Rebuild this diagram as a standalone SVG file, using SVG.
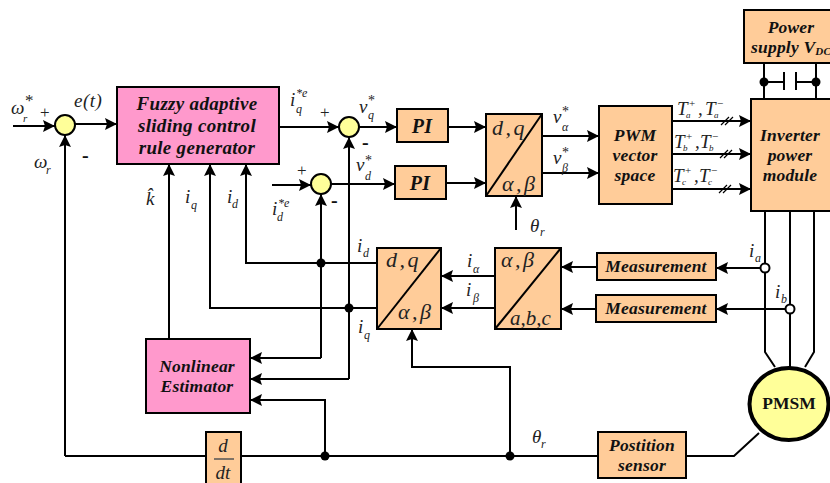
<svg xmlns="http://www.w3.org/2000/svg" width="830" height="483" viewBox="0 0 830 483">
<style>
text{font-family:"Liberation Serif","Times New Roman",serif;fill:#111}
.b{font-weight:bold;font-style:italic;font-size:19px;text-anchor:middle;letter-spacing:.3px}
.b2{font-weight:bold;font-style:italic;font-size:17.500px;text-anchor:middle;letter-spacing:.2px}
.m{font-style:italic;font-size:19px;fill:#222}
.t{font-style:italic;font-size:19px;fill:#222}
.s{font-style:italic;font-size:12px;fill:#222}
.e{font-style:italic;font-size:9px;fill:#222}
.u{font-size:14px;fill:#222}
.w{font-size:11px;fill:#222}
.v{font-size:17px;fill:#222}
.p{font-size:17.500px;font-weight:bold}
.n{font-size:20px;font-weight:bold}
.k{font-style:italic;font-size:22px;fill:#222;letter-spacing:2.500px}
.c{fill:none;stroke:#000;stroke-width:2}
.a{marker-end:url(#h)}
.o{fill:#fc9;stroke:#000;stroke-width:2}
.r{fill:#f9c;stroke:#000;stroke-width:2}
.y{fill:#ff9;stroke:#000;stroke-width:2}
.d{fill:#000}
</style>
<defs>
<marker id="h" markerUnits="userSpaceOnUse" markerWidth="13" markerHeight="13" refX="12" refY="6.500" orient="auto"><path d="M0,0.500 L12,6.500 L0,12.500 L2,6.500 Z" fill="#000"/></marker>
</defs>
<g id="connectors">
<path class="c a" d="M13,126H55"/>
<path class="c a" d="M75,124H117"/>
<path class="c a" d="M65,456V135"/>
<path class="c" d="M65,456H206"/>
<path class="c" d="M241,456H598"/>
<path class="c a" d="M325,456V400H250"/>
<path class="c a" d="M510,456V367H412V329"/>
<path class="c" d="M686,456H734L759,433"/>
<path class="c a" d="M169,339V164"/>
<path class="c a" d="M377,308H210V164"/>
<path class="c a" d="M377,263H246V164"/>
<path class="c a" d="M321,358H250"/>
<path class="c a" d="M321,358V194"/>
<path class="c a" d="M349,379H250"/>
<path class="c a" d="M349,379V137"/>
<path class="c a" d="M279,127H339"/>
<path class="c a" d="M359,127H397"/>
<path class="c a" d="M272,185H311"/>
<path class="c a" d="M331,184H395"/>
<path class="c a" d="M448,127H486"/>
<path class="c a" d="M446,183H486"/>
<path class="c a" d="M516,230V196"/>
<path class="c a" d="M542,136H599"/>
<path class="c a" d="M542,173H599"/>
<path class="c a" d="M672,121H751"/>
<path class="c a" d="M672,154H751"/>
<path class="c a" d="M672,189H751"/>
<path class="c" d="M721,125L729,117M725,125L733,117M720,158L728,150M724,158L732,150M719,193L727,185M723,193L731,185" style="stroke-width:1.200px"/>
<path class="c a" d="M495,276H441"/>
<path class="c a" d="M495,308H441"/>
<path class="c a" d="M597,267H561"/>
<path class="c a" d="M596,309H561"/>
<path class="c a" d="M760,268H716"/>
<path class="c a" d="M785,309H716"/>
<path class="c" d="M764,63V99M816,63V99M764,82H784M784,72V90M796,72V90M796,82H816"/>
<path class="c" d="M765,211V352L775,367M790,211V367M814,211V352L805,367"/>
<circle class="d" cx="321" cy="263" r="4.500"/>
<circle class="d" cx="349" cy="308" r="4.500"/>
<circle class="d" cx="325" cy="456" r="4.500"/>
<circle class="d" cx="510" cy="456" r="4.500"/>
<circle class="d" cx="764" cy="82" r="4.500"/>
<circle class="d" cx="816" cy="82" r="4.500"/>
<circle cx="765" cy="268" r="4.500" fill="#fff" stroke="#000" stroke-width="2"/>
<circle cx="790" cy="309" r="4.500" fill="#fff" stroke="#000" stroke-width="2"/>
</g>
<g id="fuzzy"><rect class="r" x="117" y="87" width="162" height="77"/><text class="b" x="197" y="110">Fuzzy adaptive</text><text class="b" x="197" y="132">sliding control</text><text class="b" x="197" y="154">rule generator</text></g>
<g id="estimator"><rect class="r" x="146" y="339" width="104" height="74"/><text class="b2" x="197" y="372">Nonlinear</text><text class="b2" x="197" y="392">Estimator</text></g>
<g id="sum1"><circle class="y" cx="65" cy="125" r="10"/></g>
<g id="sum2"><circle class="y" cx="349" cy="127" r="10"/></g>
<g id="sum3"><circle class="y" cx="321" cy="184" r="10"/></g>
<g id="pi1"><rect class="o" x="397" y="109" width="51" height="33"/><text class="b" x="422" y="133" style="font-size:20px">PI</text></g>
<g id="pi2"><rect class="o" x="395" y="166" width="51" height="33"/><text class="b" x="420" y="190" style="font-size:20px">PI</text></g>
<g id="dq-ab"><rect class="o" x="486" y="114" width="56" height="82"/><path class="c" d="M486,196L542,114"/><text class="k" x="492" y="135">d,q</text><text class="k" x="502" y="191">α,β</text></g>
<g id="pwm"><rect class="o" x="599" y="106" width="73" height="98"/><text class="b2" x="635" y="141">PWM</text><text class="b2" x="635" y="161">vector</text><text class="b2" x="635" y="181">space</text></g>
<g id="inverter"><rect class="o" x="751" y="99" width="85" height="112"/><text class="b2" x="790" y="141">Inverter</text><text class="b2" x="790" y="161">power</text><text class="b2" x="790" y="181">module</text></g>
<g id="power"><rect class="o" x="744" y="10" width="92" height="53"/><text class="b2" x="791" y="33">Power</text><text class="b2" x="751" y="53" style="text-anchor:start">supply V<tspan font-size="11" dy="2">DC</tspan></text></g>
<g id="ab-dq"><rect class="o" x="377" y="248" width="64" height="81"/><path class="c" d="M377,329L441,248"/><text class="k" x="386" y="267">d,q</text><text class="k" x="398" y="319">α,β</text></g>
<g id="abc-ab"><rect class="o" x="495" y="248" width="66" height="81"/><path class="c" d="M495,329L561,248"/><text class="k" x="501" y="267">α,β</text><text class="k" x="510" y="325" style="letter-spacing:0;font-size:21px">a,b,c</text></g>
<g id="meas1"><rect class="o" x="597" y="253" width="119" height="27"/><text class="b2" x="656" y="272">Measurement</text></g>
<g id="meas2"><rect class="o" x="596" y="295" width="120" height="27"/><text class="b2" x="656" y="314">Measurement</text></g>
<g id="pmsm"><ellipse cx="789" cy="404" rx="39.500" ry="36" fill="#ff9" stroke="#000" stroke-width="4"/><text class="p" x="789" y="409" text-anchor="middle">PMSM</text></g>
<g id="sensor"><rect class="o" x="598" y="432" width="88" height="46"/><text class="b2" x="642" y="451">Postition</text><text class="b2" x="642" y="471">sensor</text></g>
<g id="ddt"><rect class="o" x="206" y="432" width="35" height="60"/><path d="M214,459H234" stroke="#555" stroke-width="1.500"/><text class="t" x="223" y="452" text-anchor="middle">d</text><text class="t" x="223" y="479" text-anchor="middle">dt</text></g>
<g id="labels">
<text class="m" x="11" y="114">ω</text><text class="s" x="23" y="122" style="font-size:11px">r</text><text class="v" x="25" y="106">*</text>
<text class="v" x="40" y="118">+</text>
<text class="t" x="74" y="107" style="letter-spacing:.5px">e(t)</text>
<text class="n" x="82" y="162">-</text>
<text class="m" x="34" y="168">ω</text><text class="s" x="46" y="174">r</text>
<text class="t" x="146" y="205">k̂</text>
<text class="t" x="185" y="203">i</text><text class="s" x="191" y="209">q</text>
<text class="t" x="227" y="203">i</text><text class="s" x="232" y="208">d</text>
<text class="t" x="290" y="106">i</text><text class="s" x="296" y="113">q</text><text class="s" x="296" y="97">*e</text>
<text class="v" x="320" y="118">+</text>
<text class="t" x="359" y="113">v</text><text class="s" x="368" y="119">q</text><text class="u" x="368" y="105">*</text>
<text class="n" x="362" y="149">-</text>
<text class="t" x="356" y="171">v</text><text class="s" x="365" y="180">d</text><text class="u" x="365" y="165">*</text>
<text class="v" x="297" y="176">+</text>
<text class="n" x="331" y="207">-</text>
<text class="t" x="272" y="215">i</text><text class="s" x="277" y="221">d</text><text class="s" x="278" y="207">*e</text>
<text class="t" x="357" y="252">i</text><text class="s" x="363" y="257">d</text>
<text class="t" x="358" y="333">i</text><text class="s" x="364" y="339">q</text>
<text class="t" x="553" y="123">v</text><text class="s" x="562" y="131">α</text><text class="u" x="562" y="116">*</text>
<text class="t" x="553" y="164">v</text><text class="s" x="562" y="172">β</text><text class="u" x="562" y="157">*</text>
<text class="t" x="677" y="115">T</text><text class="e" x="686" y="118">a</text><text class="w" x="689" y="107">+</text><text class="t" x="698" y="115">,</text><text class="t" x="705" y="115">T</text><text class="e" x="714" y="118">a</text><text class="w" x="717" y="107">−</text>
<text class="t" x="674" y="148">T</text><text class="e" x="683" y="151">b</text><text class="w" x="686" y="140">+</text><text class="t" x="695" y="148">,</text><text class="t" x="700" y="148">T</text><text class="e" x="709" y="151">b</text><text class="w" x="712" y="140">−</text>
<text class="t" x="673" y="182">T</text><text class="e" x="682" y="185">c</text><text class="w" x="685" y="174">+</text><text class="t" x="694" y="182">,</text><text class="t" x="699" y="182">T</text><text class="e" x="708" y="185">c</text><text class="w" x="711" y="174">−</text>
<text class="t" x="530" y="232">θ</text><text class="s" x="540" y="236">r</text>
<text class="t" x="467" y="267">i</text><text class="s" x="473" y="273">α</text>
<text class="t" x="466" y="296">i</text><text class="s" x="473" y="302">β</text>
<text class="t" x="749" y="257">i</text><text class="s" x="755" y="262">a</text>
<text class="t" x="775" y="298">i</text><text class="s" x="781" y="303">b</text>
<text class="t" x="532" y="443">θ</text><text class="s" x="541" y="448">r</text>
</g>
</svg>
